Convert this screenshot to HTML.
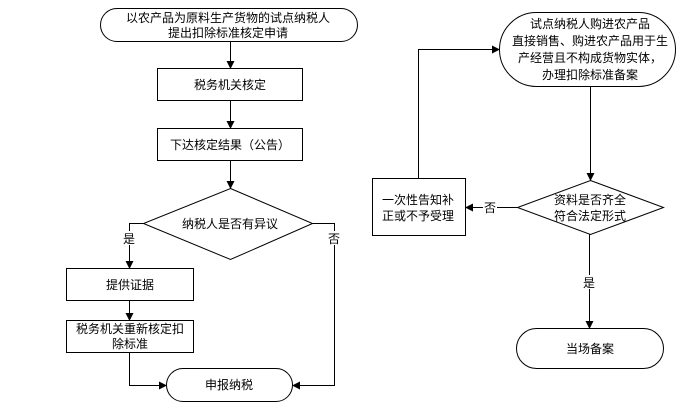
<!DOCTYPE html>
<html><head><meta charset="utf-8"><style>
html,body{margin:0;padding:0;background:#fff;}
svg{display:block;}
text{font-family:"Liberation Sans","Noto Sans CJK SC",sans-serif;font-size:12px;fill:#000;text-anchor:middle;}
</style></head><body>
<svg width="692" height="418" viewBox="0 0 692 418" xmlns="http://www.w3.org/2000/svg">
<defs><marker id="a" markerWidth="8" markerHeight="8" refX="7" refY="4" orient="auto" markerUnits="userSpaceOnUse"><path d="M0,0 L8,4 L0,8 z" fill="#000"/></marker></defs>
<g fill="#fff" stroke="#000" stroke-width="1">
<rect x="100.5" y="8.5" width="257" height="33" rx="16.5"/>
<rect x="157.5" y="68.5" width="145" height="32"/>
<rect x="157.5" y="128.5" width="145" height="32"/>
<polygon points="230.5,188.5 312.5,223.5 230.5,259.5 143.5,223.5"/>
<rect x="66.5" y="268.5" width="127" height="32"/>
<rect x="66.5" y="320.5" width="127" height="32"/>
<rect x="166.5" y="368.5" width="126" height="33" rx="16.5"/>
<rect x="499.5" y="12.5" width="176" height="74" rx="37"/>
<polygon points="590.5,180.5 663.5,207.5 590.5,234.5 517.5,207.5"/>
<rect x="372.5" y="178.5" width="93" height="57"/>
<rect x="516.5" y="328.5" width="147" height="40" rx="20"/>
</g>
<g fill="none" stroke="#000" stroke-width="1">
<path d="M230.5,41.5 V68" marker-end="url(#a)"/>
<path d="M230.5,100.5 V128" marker-end="url(#a)"/>
<path d="M230.5,160.5 V188" marker-end="url(#a)"/>
<path d="M143.5,223.5 H129.5 V268" marker-end="url(#a)"/>
<path d="M129.5,300.5 V320" marker-end="url(#a)"/>
<path d="M129.5,352.5 V385.5 H166" marker-end="url(#a)"/>
<path d="M312.5,223.5 H334.5 V385.5 H293" marker-end="url(#a)"/>
<path d="M590.5,86.5 V180" marker-end="url(#a)"/>
<path d="M517.5,207.5 H466" marker-end="url(#a)"/>
<path d="M418.5,178.5 V49.5 H499" marker-end="url(#a)"/>
<path d="M589.5,234.5 V328" marker-end="url(#a)"/>
</g>
<rect x="123" y="231" width="13" height="14" fill="#fff"/>
<rect x="328" y="231" width="13" height="14" fill="#fff"/>
<rect x="483" y="200" width="14" height="14" fill="#fff"/>
<rect x="583" y="275" width="13" height="14" fill="#fff"/>
<text x="228" y="22">以农产品为原料生产货物的试点纳税人</text>
<text x="228" y="37">提出扣除标准核定申请</text>
<text x="230" y="89">税务机关核定</text>
<text x="230" y="149">下达核定结果（公告）</text>
<text x="230" y="228">纳税人是否有异议</text>
<text x="129" y="243">是</text>
<text x="334" y="243">否</text>
<text x="130" y="289">提供证据</text>
<text x="130" y="333">税务机关重新核定扣</text>
<text x="130" y="348">除标准</text>
<text x="229" y="389">申报纳税</text>
<text x="590" y="28">试点纳税人购进农产品</text>
<text x="590" y="45">直接销售、购进农产品用于生</text>
<text x="590" y="62">产经营且不构成货物实体，</text>
<text x="590" y="79">办理扣除标准备案</text>
<text x="590" y="204">资料是否齐全</text>
<text x="590" y="220">符合法定形式</text>
<text x="490" y="212">否</text>
<text x="418" y="204">一次性告知补</text>
<text x="418" y="220">正或不予受理</text>
<text x="589" y="287">是</text>
<text x="590" y="353">当场备案</text>
</svg>
</body></html>
